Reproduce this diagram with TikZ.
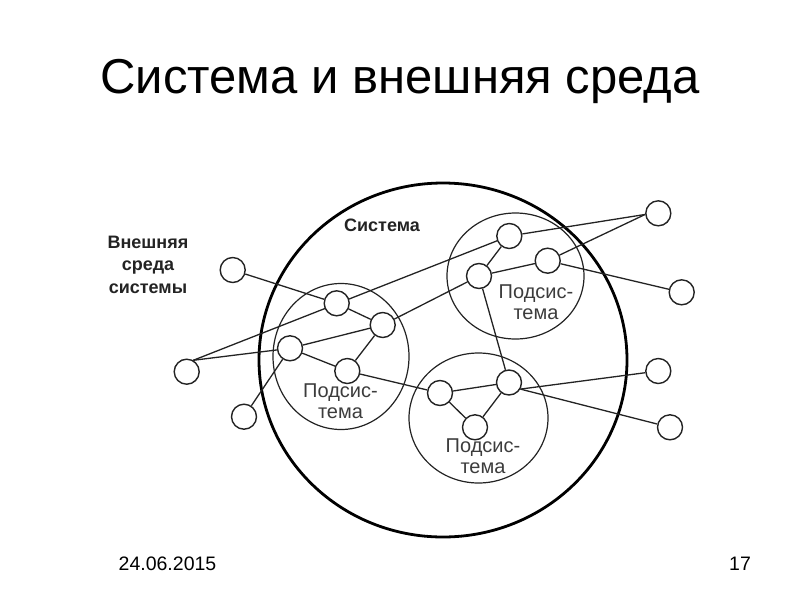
\documentclass[tikz,border=0pt]{standalone}
\usepackage{fontspec}
\setmainfont{Liberation Sans}
\usetikzlibrary{backgrounds}
\definecolor{ln}{RGB}{35,35,35}
\definecolor{txt}{RGB}{60,60,60}
\begin{document}
\begin{tikzpicture}[x=1pt,y=-1pt,
  sn/.style={circle,draw=ln,line width=1.4pt,fill=white,minimum size=25pt,inner sep=0pt},
  ed/.style={draw=ln,line width=1.3pt},
  subc/.style={draw=ln,line width=1.2pt},
  sysc/.style={draw=black,line width=2.8pt},
  lbl/.style={font=\fontsize{20}{21}\selectfont,text=txt,anchor=base,inner sep=0pt},
  blbl/.style={font=\fontsize{18}{19}\selectfont\bfseries,text=ln,anchor=base,inner sep=0pt},
  foot/.style={font=\fontsize{19.5}{20}\selectfont,anchor=base,inner sep=0pt}]
\useasboundingbox (0,0) rectangle (800,600);

% title
\node[font=\fontsize{49}{50}\selectfont,anchor=base,inner sep=0pt] (title) at (400,93) {Система и внешняя среда};

% labels
\node[blbl] (sys) at (382,231) {Система};
\node[blbl] (env1) at (148,248.5) {Внешняя};
\node[blbl] (env2) at (148,270.8) {среда};
\node[blbl] (env3) at (148,293) {системы};

\node[lbl] (s1a) at (340.5,397) {Подсис-};
\node[lbl] (s1b) at (340.5,418) {тема};
\node[lbl] (s2a) at (536,298) {Подсис-};
\node[lbl] (s2b) at (536,319) {тема};
\node[lbl] (s3a) at (483,452) {Подсис-};
\node[lbl] (s3b) at (483,473) {тема};

% small nodes
\node[sn] (E1) at (232.7,270) {};
\node[sn] (E2) at (186.7,371.7) {};
\node[sn] (E3) at (244,416.7) {};
\node[sn] (E4) at (658.3,213.3) {};
\node[sn] (E5) at (681.7,292.3) {};
\node[sn] (E6) at (658.3,371) {};
\node[sn] (E7) at (670,427.3) {};

\node[sn] (A) at (336.7,303.3) {};
\node[sn] (B) at (382.7,325) {};
\node[sn] (C) at (290,348.3) {};
\node[sn] (D) at (347.3,371) {};

\node[sn] (F) at (509.3,236) {};
\node[sn] (G) at (547.7,260.7) {};
\node[sn] (H) at (479,276) {};

\node[sn] (I) at (440,393) {};
\node[sn] (J) at (509,382.5) {};
\node[sn] (K) at (475,427.3) {};

% footer
\node[foot] (date) at (167.5,570) {24.06.2015};
\node[foot] (page) at (740,570) {17};

\begin{pgfonlayer}{background}
  \draw[sysc] (443,360) ellipse [x radius=184, y radius=177];
  \draw[subc] (341,356.5) ellipse [x radius=68, y radius=73];
  \draw[subc] (515.5,276) ellipse [x radius=68.5, y radius=63];
  \draw[subc] (478.5,418) ellipse [x radius=69.5, y radius=65];

  \draw[ed] (E1) -- (A);
  \draw[ed] (A) -- (B);
  \draw[ed] (B) -- (D);
  \draw[ed] (C) -- (B);
  \draw[ed] (C) -- (D);
  \draw[ed] (E2.60) -- (C);
  \draw[ed] (E2.60) -- (F);
  \draw[ed] (E3) -- (C);
  \draw[ed] (D) -- (I);
  \draw[ed] (B) -- (H);
  \draw[ed] (H) -- (F);
  \draw[ed] (H) -- (G);
  \draw[ed] (H) -- (J);
  \draw[ed] (F) -- (E4.185);
  \draw[ed] (G) -- (E4.185);
  \draw[ed] (G) -- (E5);
  \draw[ed] (I) -- (J);
  \draw[ed] (I) -- (K);
  \draw[ed] (K) -- (J);
  \draw[ed] (J.-30) -- (E6);
  \draw[ed] (J.-30) -- (E7);
\end{pgfonlayer}
\end{tikzpicture}
\end{document}
